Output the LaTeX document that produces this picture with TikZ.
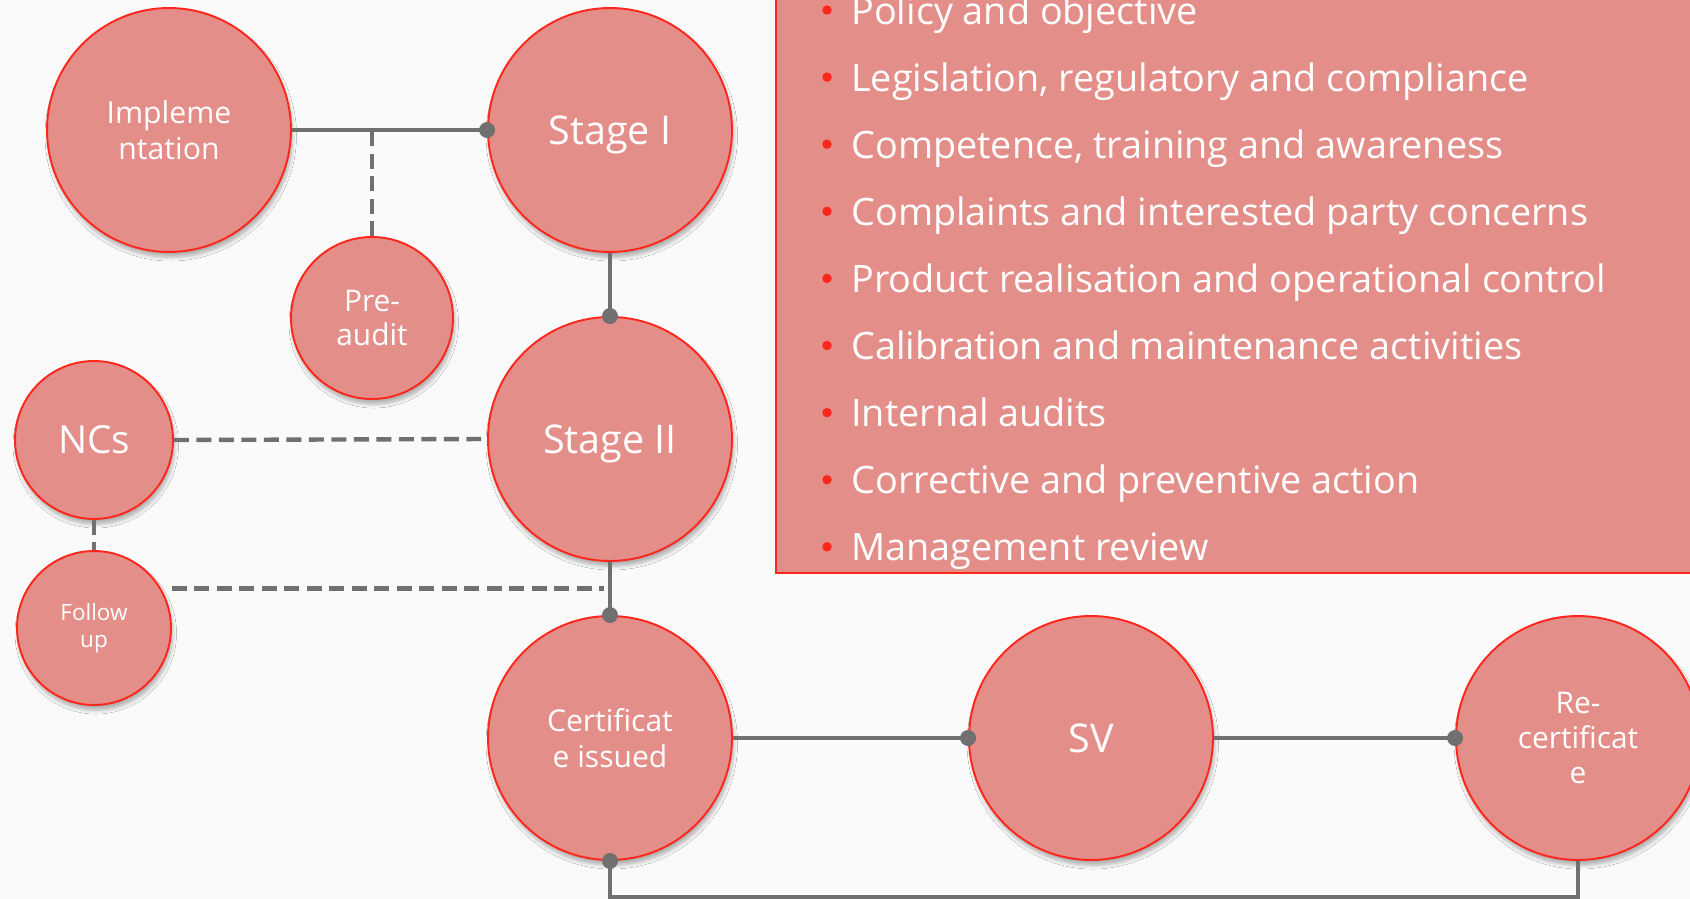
\documentclass[tikz,border=0pt]{standalone}
\usepackage{fontspec}
\setmainfont{Open Sans}
\usepackage{tikz}
\usetikzlibrary{positioning,calc,shadows.blur}
\usepackage{xcolor}

\definecolor{discfill}{RGB}{228,142,138}
\definecolor{ringred}{RGB}{255,38,28}
\definecolor{linkgray}{RGB}{112,112,112}
\definecolor{pagebg}{RGB}{250,250,250}

\begin{document}
\begin{tikzpicture}[
  x=0.02cm, y=-0.02cm,
  disc/.style={circle, draw=ringred, line width=1.1pt, fill=discfill,
               text=white, align=center, inner sep=0pt,
               blur shadow={shadow xshift=1pt, shadow yshift=-3pt,
                            shadow blur steps=6, shadow opacity=30}},
  bigdisc/.style={disc, minimum size=4.88cm, text depth=0pt,
                  font=\fontsize{22.5pt}{26pt}\selectfont},
  middisc/.style={disc, minimum size=4.88cm,
                  font=\fontsize{17.2pt}{20.4pt}\selectfont},
  link/.style={draw=linkgray, line width=2.5pt},
  dashlink/.style={link, dash pattern=on 8.5pt off 4.3pt},
  joint/.style={fill=linkgray},
  listbox/.style={draw=ringred, line width=1.4pt, fill=discfill,
                  minimum width=19cm, minimum height=12.6cm, inner sep=0pt},
  itemtext/.style={text=white, inner sep=0pt,
                   font=\fontsize{21.5pt}{25pt}\selectfont},
]

\useasboundingbox (0,0) rectangle (1690,899);
\clip (0,0) rectangle (1690,899);
\fill[pagebg] (0,0) rectangle (1690,899);

% ---- checklist panel ----
\node[listbox, anchor=south west] (checklist) at (775,574) {};
\foreach \txt [count=\i] in {
    Policy and objective,
    {Legislation, regulatory and compliance},
    {Competence, training and awareness},
    Complaints and interested party concerns,
    Product realisation and operational control,
    Calibration and maintenance activities,
    Internal audits,
    Corrective and preventive action,
    Management review} {
  \node[itemtext, anchor=base west] (item\i) at (851,{24+67.1*(\i-1)}) {\txt};
  \fill[ringred] ([xshift=-0.48cm, yshift=0.28cm]item\i.base west) circle (0.095cm);
}

% ---- audit stages ----
\node[middisc] (impl) at (169,130) {Impleme\\ntation};
\node[bigdisc] (stage1) at (610,130) {Stage I};
\node[disc, minimum size=3.24cm, font=\fontsize{17pt}{19.8pt}\selectfont]
  (preaudit) at (372,318) {Pre-\\audit};
\node[bigdisc] (stage2) at (610,439) {Stage II};
\node[disc, minimum size=3.16cm, font=\fontsize{22pt}{26pt}\selectfont]
  (ncs) at (94,440) {NCs};
\node[disc, minimum size=3.08cm, font=\fontsize{12.8pt}{15pt}\selectfont]
  (followup) at (94,628) {Follow\\up};
\node[middisc, font=\fontsize{17.1pt}{20.4pt}\selectfont]
  (cert) at (610,738) {Certificat\\e issued};
\node[bigdisc] (sv) at (1091,738) {SV};
\node[middisc, font=\fontsize{17pt}{20pt}\selectfont]
  (recert) at (1578,738) {Re-\\certificat\\e};

% ---- connectors ----
\draw[link] (impl.east) -- (stage1.west);
\draw[dashlink] (preaudit.north) -- (preaudit.north |- impl.east);
\draw[link] (stage1.south) -- (stage2.north);
\draw[dashlink] (ncs.east) -- (stage2.west);
\draw[dashlink] (ncs.south) -- (followup.north);
\draw[link] (stage2.south) -- (cert.north);
\coordinate (fujoin) at ($(stage2.south)!0.5!(cert.north)$);
\draw[dashlink] (fujoin -| followup.east) -- ([xshift=-0.12cm]fujoin);
\draw[link] (cert.east) -- (sv.west);
\draw[link] (sv.east) -- (recert.west);
\draw[link] (cert.south) -- ++(0,36) -| (recert.south);

% joints
\foreach \pt in {stage1.west, stage2.north, cert.north, cert.south, sv.west, recert.west}
  \fill[joint] (\pt) circle (0.16cm);

\end{tikzpicture}
\end{document}
